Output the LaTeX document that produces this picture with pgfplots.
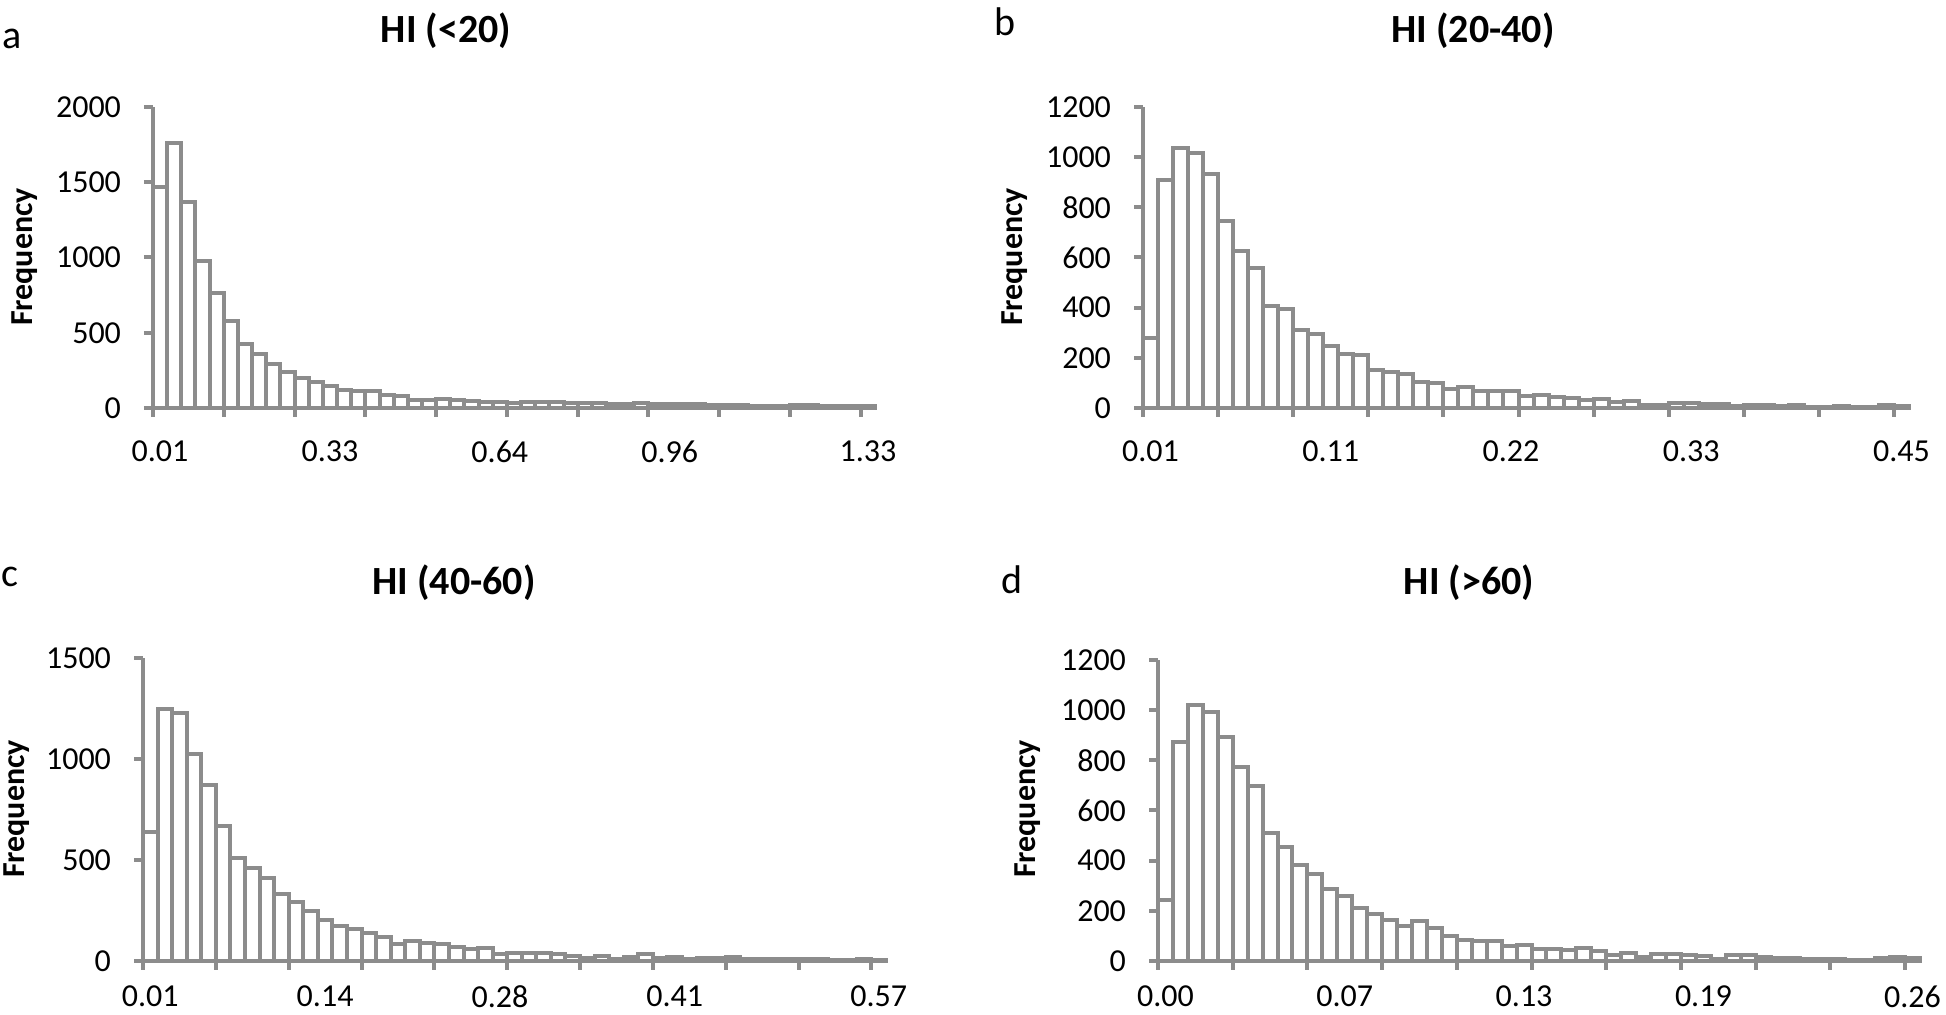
\documentclass[border=0pt]{standalone}
\usepackage{fontspec}
\setmainfont{Carlito}
\usepackage{pgfplots}
\pgfplotsset{compat=1.18}
\definecolor{barg}{RGB}{140,140,140}
\pgfplotsset{
 hist/.style={
  scale only axis, axis lines=left, axis line style={-, draw=barg, line width=2pt},
  xmin=0, xmax=51, ymin=0, clip=false,
  xtick={0,5,...,50}, xticklabels={},
  tick align=outside, major tick length=4.5pt,
  every tick/.style={draw=barg, line width=2pt},
  extra x ticks={0.5,12.5,24.5,36.5,50.5},
  extra x tick style={major tick length=0pt, xticklabel style={yshift=-13pt}},
  yticklabel style={xshift=-8pt},
  ticklabel style={font=\fontsize{16}{19}\selectfont, text=black},
  anchor=south west,
 },
 low/.style={extra x tick style={xticklabel style={yshift=4pt}}},
 bars/.style={ybar interval, draw=barg, fill=white, line width=2pt},
}
\begin{document}
\begin{tikzpicture}
\path[use as bounding box] (0,0) rectangle (973pt,507.5pt);
% panel a
\begin{axis}[hist, at={(76.5pt,303.5pt)}, width=361pt, height=150.5pt,
  ymax=2000, ytick={0,500,1000,1500,2000}, yticklabels={0,500,1000,1500,2000},
  extra x tick labels={0.01,0.33,0.64,0.96,1.33}]
\addplot[bars] coordinates {(0,1470) (1,1763) (2,1370) (3,977) (4,767) (5,579) (6,424) (7,358) (8,292) (9,236) (10,199) (11,170) (12,144) (13,122) (14,115) (15,110) (16,88) (17,77) (18,55) (19,51) (20,62) (21,52) (22,45) (23,40) (24,38) (25,34) (26,40) (27,42) (28,38) (29,36) (30,36) (31,30) (32,27) (33,24) (34,30) (35,24) (36,25) (37,26) (38,24) (39,18) (40,22) (41,17) (42,16) (43,15) (44,16) (45,22) (46,17) (47,16) (48,14) (49,13) (50,10) (51,10)};
\end{axis}
% panel b
\begin{axis}[hist, at={(571.5pt,303.5pt)}, width=383pt, height=150.5pt,
  ymax=1200, ytick={0,200,...,1200}, yticklabels={0,200,400,600,800,1000,1200},
  extra x tick labels={0.01,0.11,0.22,0.33,0.45}]
\addplot[bars] coordinates {(0,278) (1,908) (2,1037) (3,1017) (4,932) (5,747) (6,627) (7,557) (8,408) (9,395) (10,312) (11,296) (12,249) (13,216) (14,212) (15,150) (16,142) (17,137) (18,104) (19,98) (20,75) (21,83) (22,66) (23,66) (24,66) (25,46) (26,53) (27,44) (28,40) (29,30) (30,36) (31,24) (32,27) (33,11) (34,11) (35,20) (36,20) (37,16) (38,16) (39,9) (40,10) (41,13) (42,7) (43,11) (44,5) (45,5) (46,9) (47,5) (48,5) (49,11) (50,8) (51,8)};
\end{axis}
% panel c
\begin{axis}[hist, low, at={(71.5pt,27pt)}, width=371.5pt, height=151.5pt,
  ymax=1500, ytick={0,500,1000,1500}, yticklabels={0,500,1000,1500},
  extra x tick labels={0.01,0.14,0.28,0.41,0.57}]
\addplot[bars] coordinates {(0,640) (1,1246) (2,1227) (3,1026) (4,872) (5,668) (6,509) (7,458) (8,410) (9,332) (10,291) (11,246) (12,204) (13,171) (14,159) (15,138) (16,118) (17,85) (18,97) (19,88) (20,82) (21,71) (22,60) (23,62) (24,33) (25,41) (26,41) (27,41) (28,36) (29,25) (30,16) (31,25) (32,11) (33,20) (34,33) (35,16) (36,21) (37,11) (38,16) (39,16) (40,21) (41,11) (42,8) (43,11) (44,10) (45,10) (46,11) (47,3) (48,7) (49,11) (50,7) (51,7)};
\end{axis}
% panel d
\begin{axis}[hist, low, at={(579pt,27pt)}, width=381pt, height=150.5pt,
  ymax=1200, ytick={0,200,...,1200}, yticklabels={0,200,400,600,800,1000,1200},
  extra x tick labels={0.00,0.07,0.13,0.19,0.26}]
\addplot[bars] coordinates {(0,245) (1,874) (2,1020) (3,993) (4,894) (5,774) (6,698) (7,512) (8,455) (9,382) (10,346) (11,289) (12,258) (13,213) (14,186) (15,165) (16,138) (17,158) (18,130) (19,100) (20,84) (21,80) (22,78) (23,61) (24,65) (25,46) (26,49) (27,45) (28,53) (29,39) (30,23) (31,32) (32,16) (33,27) (34,27) (35,23) (36,19) (37,9) (38,23) (39,24) (40,16) (41,12) (42,12) (43,9) (44,9) (45,7) (46,5) (47,5) (48,12) (49,16) (50,10) (51,10)};
\end{axis}
% titles and labels
\begin{scope}[every node/.style={inner sep=0pt}]
\node[font=\fontsize{20}{24}\selectfont\bfseries] at (223pt,492pt) {HI (<20)};
\node[font=\fontsize{20}{24}\selectfont\bfseries] at (736.5pt,492pt) {HI (20-40)};
\node[font=\fontsize{20}{24}\selectfont\bfseries] at (227pt,216pt) {HI (40-60)};
\node[font=\fontsize{20}{24}\selectfont\bfseries] at (734.5pt,216pt) {HI (>60)};
\node[font=\fontsize{20}{24}\selectfont] at (6pt,488pt) {a};
\node[font=\fontsize{20}{24}\selectfont] at (502.5pt,496.5pt) {b};
\node[font=\fontsize{20}{24}\selectfont] at (5pt,219pt) {c};
\node[font=\fontsize{20}{24}\selectfont] at (506pt,217.5pt) {d};
\node[font=\fontsize{16}{19}\selectfont\bfseries, rotate=90] at (12.5pt,379pt) {Frequency};
\node[font=\fontsize{16}{19}\selectfont\bfseries, rotate=90] at (507.5pt,379pt) {Frequency};
\node[font=\fontsize{16}{19}\selectfont\bfseries, rotate=90] at (8.5pt,103pt) {Frequency};
\node[font=\fontsize{16}{19}\selectfont\bfseries, rotate=90] at (514pt,103pt) {Frequency};
\end{scope}
\end{tikzpicture}
\end{document}
